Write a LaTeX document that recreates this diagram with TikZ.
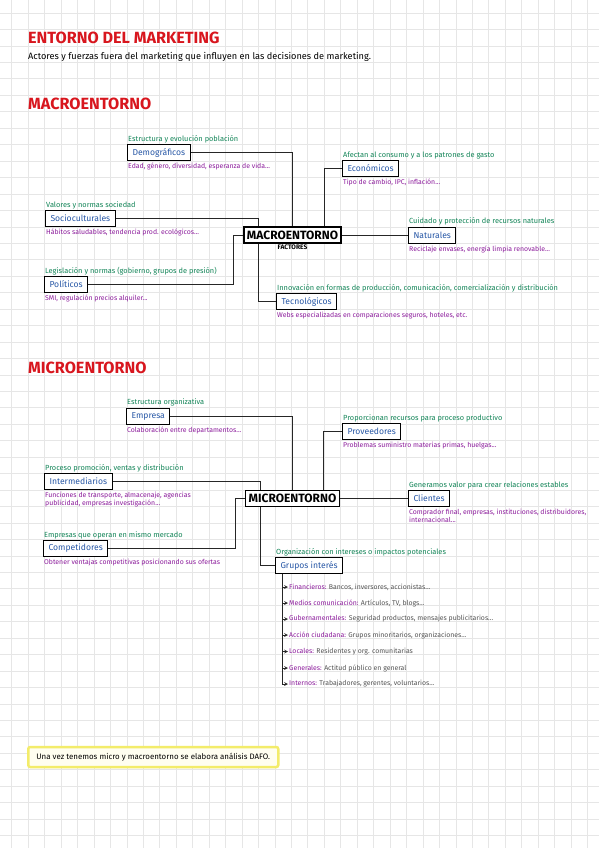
\documentclass[tikz,border=0pt]{standalone}
\usepackage{fontspec}
\setmainfont{Fira Sans}
\usetikzlibrary{positioning}

\definecolor{titlered}{HTML}{D8161E}
\definecolor{notegreen}{HTML}{138558}
\definecolor{boxblue}{HTML}{2757A6}
\definecolor{descpurple}{HTML}{8C1C9C}
\definecolor{itemgray}{HTML}{555555}
\definecolor{gridgray}{HTML}{E6E6E6}
\definecolor{dafoyellow}{HTML}{F3EC6A}

\begin{document}
\begin{tikzpicture}[x=1pt, y=-1pt, >=stealth,
    gridline/.style={gridgray, line width=0.7pt},
    bigtitle/.style={anchor=west, inner sep=0pt, text=titlered, font=\fontsize{16.2}{18}\selectfont\bfseries},
    hub/.style={draw, line width=1.4pt, fill=white, inner xsep=3pt, minimum height=16pt, font=\fontsize{12}{14}\selectfont\bfseries},
    factor/.style={draw, line width=1pt, fill=white, anchor=west, inner xsep=5pt, minimum height=16pt, text=boxblue, font=\fontsize{8.6}{9}\selectfont},
    note/.style={inner sep=1pt, text=notegreen, font=\fontsize{7.4}{8}\selectfont},
    desc/.style={inner sep=1pt, align=left, text=descpurple, font=\fontsize{6.9}{8}\selectfont},
    item/.style={anchor=west, inner sep=1pt, text=itemgray, font=\fontsize{6.9}{8}\selectfont},
    link/.style={line width=0.9pt, draw=black!85}]

    % Page and grid
    \useasboundingbox (0,0) rectangle (599,848);
    \fill[white] (0,0) rectangle (599,848);
    \foreach \gx in {0,...,36} \draw[gridline] ({11.7+16.45*\gx},0) -- ++(0,848);
    \foreach \gy in {0,...,51} \draw[gridline] (0,{13+16.45*\gy}) -- ++(599,0);

    % Titles
    \node[bigtitle] (title) at (28,38) {ENTORNO DEL MARKETING};
    \node[anchor=west, inner sep=0pt, font=\fontsize{9.2}{10}\selectfont] (subtitle) at (28,57)
        {Actores y fuerzas fuera del marketing que influyen en las decisiones de marketing.};
    \node[bigtitle] (macrotitle) at (28,104) {MACROENTORNO};
    \node[bigtitle] (microtitle) at (28,368) {MICROENTORNO};

    % Macroentorno
    \node[hub] (macro) at (292.5,235) {MACROENTORNO};
    \node[below=0pt of macro, inner sep=1pt, font=\fontsize{6.6}{7}\selectfont\bfseries] (factores) {FACTORES};

    \node[factor] (demog) at (127,152.5) {Demográficos};
    \node[note, above=0pt of demog.north west, anchor=south west] {Estructura y evolución población};
    \node[desc, below=1pt of demog.south west, anchor=north west] {Edad, género, diversidad, esperanza de vida...};

    \node[factor] (socio) at (45,218.5) {Socioculturales};
    \node[note, above=0pt of socio.north west, anchor=south west] {Valores y normas sociedad};
    \node[desc, below=1pt of socio.south west, anchor=north west] {Hábitos saludables, tendencia prod. ecológicos...};

    \node[factor] (polit) at (44,284.5) {Políticos};
    \node[note, above=0pt of polit.north west, anchor=south west] {Legislación y normas (gobierno, grupos de presión)};
    \node[desc, below=1pt of polit.south west, anchor=north west] {SMI, regulación precios alquiler...};

    \node[factor] (tecno) at (276,301.5) {Tecnológicos};
    \node[note, above=0pt of tecno.north west, anchor=south west] {Innovación en formas de producción, comunicación, comercialización y distribución};
    \node[desc, below=1pt of tecno.south west, anchor=north west] {Webs especializadas en comparaciones seguros, hoteles, etc.};

    \node[factor] (econo) at (342,168.5) {Económicos};
    \node[note, above=0pt of econo.north west, anchor=south west] {Afectan al consumo y a los patrones de gasto};
    \node[desc, below=1pt of econo.south west, anchor=north west] {Tipo de cambio, IPC, inflación...};

    \node[factor] (natur) at (408,235) {Naturales};
    \node[note, above=0pt of natur.north west, anchor=south west] {Cuidado y protección de recursos naturales};
    \node[desc, below=1pt of natur.south west, anchor=north west] {Reciclaje envases, energía limpia renovable...};

    \draw[link] (demog.east) -| (macro.north);
    \draw[link] (socio.east) -| ([xshift=15pt]macro.north west);
    \draw[link] ([xshift=15pt]macro.south west) |- (tecno.west);
    \draw[link] (polit.east) -| ([xshift=-10pt]macro.west) -- (macro.west);
    \draw[link] ([xshift=-17pt]macro.north east) |- (econo.west);
    \draw[link] (macro.east) -- (natur.west);

    % Microentorno
    \node[hub] (micro) at (292.5,498.5) {MICROENTORNO};

    \node[factor] (empresa) at (126,416) {Empresa};
    \node[note, above=0pt of empresa.north west, anchor=south west] {Estructura organizativa};
    \node[desc, below=1pt of empresa.south west, anchor=north west] {Colaboración entre departamentos...};

    \node[factor] (interm) at (44,481.5) {Intermediarios};
    \node[note, above=0pt of interm.north west, anchor=south west] {Proceso promoción, ventas y distribución};
    \node[desc, below=1pt of interm.south west, anchor=north west] {Funciones de transporte, almacenaje, agencias\\publicidad, empresas investigación...};

    \node[factor] (compet) at (43,548.5) {Competidores};
    \node[note, above=0pt of compet.north west, anchor=south west] {Empresas que operan en mismo mercado};
    \node[desc, below=1pt of compet.south west, anchor=north west] {Obtener ventajas competitivas posicionando sus ofertas};

    \node[factor] (provee) at (342,431.5) {Proveedores};
    \node[note, above=0pt of provee.north west, anchor=south west] {Proporcionan recursos para proceso productivo};
    \node[desc, below=1pt of provee.south west, anchor=north west] {Problemas suministro materias primas, huelgas...};

    \node[factor] (client) at (408,498.5) {Clientes};
    \node[note, above=0pt of client.north west, anchor=south west] {Generamos valor para crear relaciones estables};
    \node[desc, below=1pt of client.south west, anchor=north west] {Comprador final, empresas, instituciones, distribuidores,\\internacional...};

    \node[factor] (grupos) at (275,565.5) {Grupos interés};
    \node[note, above=0pt of grupos.north west, anchor=south west] {Organización con intereses o impactos potenciales};

    \draw[link] (empresa.east) -| (micro.north);
    \draw[link] (interm.east) -| ([xshift=15pt]micro.north west);
    \draw[link] ([xshift=15pt]micro.south west) |- (grupos.west);
    \draw[link] (compet.east) -| ([xshift=-10pt]micro.west) -- (micro.west);
    \draw[link] ([xshift=-17pt]micro.north east) |- (provee.west);
    \draw[link] (micro.east) -- (client.west);

    % Grupos de interes
    \node[item] (fin) at (288,587) {{\color{descpurple}Financieros:} Bancos, inversores, accionistas...};
    \node[item] (med) at (288,603) {{\color{descpurple}Medios comunicación:} Artículos, TV, blogs...};
    \node[item] (gub) at (288,619) {{\color{descpurple}Gubernamentales:} Seguridad productos, mensajes publicitarios...};
    \node[item] (acc) at (288,635) {{\color{descpurple}Acción ciudadana:} Grupos minoritarios, organizaciones...};
    \node[item] (loc) at (288,651.5) {{\color{descpurple}Locales:} Residentes y org. comunitarias};
    \node[item] (gen) at (288,668) {{\color{descpurple}Generales:} Actitud público en general};
    \node[item] (inte) at (288,684) {{\color{descpurple}Internos:} Trabajadores, gerentes, voluntarios...};
    \foreach \n in {fin,med,gub,acc,loc,gen,inte}
        \draw[link, line width=0.7pt, ->] ([xshift=7pt]grupos.south west) |- (\n.west);

    % DAFO
    \node[draw=dafoyellow, line width=2.5pt, fill=yellow!6, rounded corners=2pt, anchor=west,
          minimum width=250pt, minimum height=20pt, inner xsep=5pt, font=\fontsize{7.9}{9}\selectfont] (dafo) at (27,757)
        {Una vez tenemos micro y macroentorno se elabora análisis DAFO.};
\end{tikzpicture}
\end{document}
